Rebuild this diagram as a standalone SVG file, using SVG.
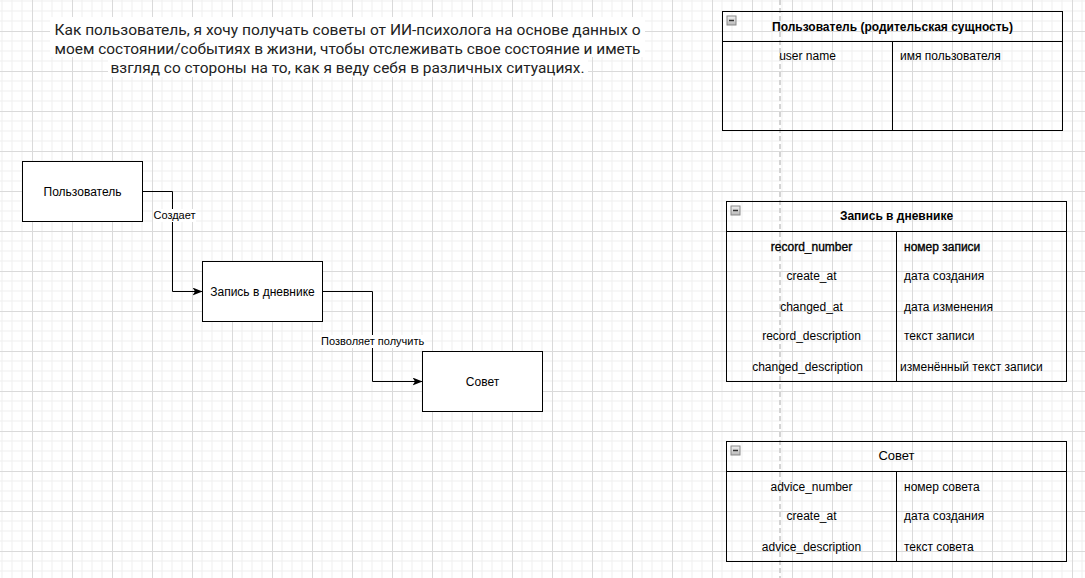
<svg xmlns="http://www.w3.org/2000/svg" width="1085" height="578" viewBox="0 0 1085 578">
<style>
.t{font-family:"Liberation Sans",Arial,sans-serif;font-size:12px;fill:#000}
.c{text-anchor:middle}
.b{font-weight:bold}
.box{fill:#fff;stroke:#000;stroke-width:1}
.tbl{fill:none;stroke:#000;stroke-width:1}
.edge{fill:none;stroke:#000;stroke-width:1}
.el{font-family:"Liberation Sans",Arial,sans-serif;font-size:11px;fill:#000;text-anchor:middle}
.hd{font-family:Roboto,"Liberation Sans",sans-serif;font-size:15.5px;fill:#222;text-anchor:middle}
</style>
<defs>
<pattern id="grid" patternUnits="userSpaceOnUse" x="-3" y="-4" width="40" height="40">
<path d="M5 0V40M15 0V40M25 0V40M0 5H40M0 15H40M0 25H40" stroke="#efefef" stroke-width="1" fill="none"/>
<path d="M35.5 0V40M0 35.5H40" stroke="#dadada" stroke-width="1" fill="none"/>
</pattern>
<linearGradient id="mg" x1="0" y1="0" x2="0" y2="1">
<stop offset="0" stop-color="#f2f2f2"/>
<stop offset="1" stop-color="#b8b8b8"/>
</linearGradient>
<g id="minus">
<rect x="0.5" y="0.5" width="9" height="9" fill="url(#mg)" stroke="#8a8a8a"/>
<path d="M2.5 5H7.5" stroke="#333" stroke-width="1.5"/>
</g>
<marker id="arr" viewBox="0 0 10 8" refX="10" refY="4" markerWidth="10" markerHeight="8" markerUnits="userSpaceOnUse" orient="auto">
<path d="M0 0L10 4L0 8L2.5 4Z" fill="#000"/>
</marker>
</defs>
<rect width="1085" height="578" fill="#fff"/>
<rect width="1085" height="578" fill="url(#grid)"/>
<line x1="780" y1="0" x2="780" y2="578" stroke="#d4d4d4" stroke-width="2" stroke-dasharray="5 3"/>

<g id="story">
<path d="M50 17H645V57H50Z M108 57H588V77H108Z" fill="#fff"/>
<text class="hd" x="347.5" y="34.5" textLength="586" lengthAdjust="spacingAndGlyphs">Как пользователь, я хочу получать советы от ИИ-психолога на основе данных о</text>
<text class="hd" x="347.5" y="53.5" textLength="586" lengthAdjust="spacingAndGlyphs">моем состоянии/событиях в жизни, чтобы отслеживать свое состояние и иметь</text>
<text class="hd" x="347.5" y="72.5" textLength="474" lengthAdjust="spacingAndGlyphs">взгляд со стороны на то, как я веду себя в различных ситуациях.</text>
</g>

<g id="connectors">
<path class="edge" d="M142.5 191.5H172.5V291.5H202.5" marker-end="url(#arr)"/>
<rect x="153" y="209" width="43" height="13" fill="#fff"/>
<text class="el" x="174.5" y="219">Создает</text>
<path class="edge" d="M322.5 291.5H372.5V381.5H422.5" marker-end="url(#arr)"/>
<rect x="321" y="335" width="104" height="13" fill="#fff"/>
<text class="el" x="372.7" y="345">Позволяет получить</text>
</g>

<g id="node-user">
<rect class="box" x="22.5" y="161.5" width="120" height="60"/>
<text class="t c" x="82.5" y="195.5">Пользователь</text>
</g>
<g id="node-record">
<rect class="box" x="202.5" y="261.5" width="120" height="60"/>
<text class="t c" x="262.5" y="295.5">Запись в дневнике</text>
</g>
<g id="node-advice">
<rect class="box" x="422.5" y="351.5" width="120" height="60"/>
<text class="t c" x="482.5" y="385.5">Совет</text>
</g>

<g id="table-user">
<rect class="tbl" x="722.5" y="11.5" width="340" height="119"/>
<path class="tbl" d="M722.5 41.5H1062.5M892.5 41.5V130.5"/>
<use href="#minus" x="726.5" y="15.5"/>
<text class="t c b" x="892.5" y="31">Пользователь (родительская сущность)</text>
<text class="t c" x="807.5" y="60">user name</text>
<text class="t" x="900" y="60">имя пользователя</text>
</g>

<g id="table-record">
<rect class="tbl" x="726.5" y="201.5" width="340" height="180"/>
<path class="tbl" d="M726.5 231.5H1066.5M896.5 231.5V381.5"/>
<use href="#minus" x="730.5" y="205.5"/>
<text class="t c b" x="896.5" y="220">Запись в дневнике</text>
<text class="t c" x="811.5" y="251" stroke="#000" stroke-width="0.35">record_number</text>
<text class="t" x="904" y="251" stroke="#000" stroke-width="0.35">номер записи</text>
<text class="t c" x="811.5" y="280">create_at</text>
<text class="t" x="904" y="280">дата создания</text>
<text class="t c" x="811.5" y="311">changed_at</text>
<text class="t" x="904" y="311">дата изменения</text>
<text class="t c" x="811.5" y="340">record_description</text>
<text class="t" x="904" y="340">текст записи</text>
<text class="t c" x="807.5" y="371">changed_description</text>
<text class="t" x="900" y="371">изменённый текст записи</text>
</g>

<g id="table-advice">
<rect class="tbl" x="726.5" y="441.5" width="340" height="120"/>
<path class="tbl" d="M726.5 471.5H1066.5M896.5 471.5V561.5"/>
<use href="#minus" x="730.5" y="445.5"/>
<text class="t c" x="896.5" y="460" style="font-size:13px">Совет</text>
<text class="t c" x="811.5" y="491">advice_number</text>
<text class="t" x="904" y="491">номер совета</text>
<text class="t c" x="811.5" y="520">create_at</text>
<text class="t" x="904" y="520">дата создания</text>
<text class="t c" x="811.5" y="551">advice_description</text>
<text class="t" x="904" y="551">текст совета</text>
</g>
</svg>
